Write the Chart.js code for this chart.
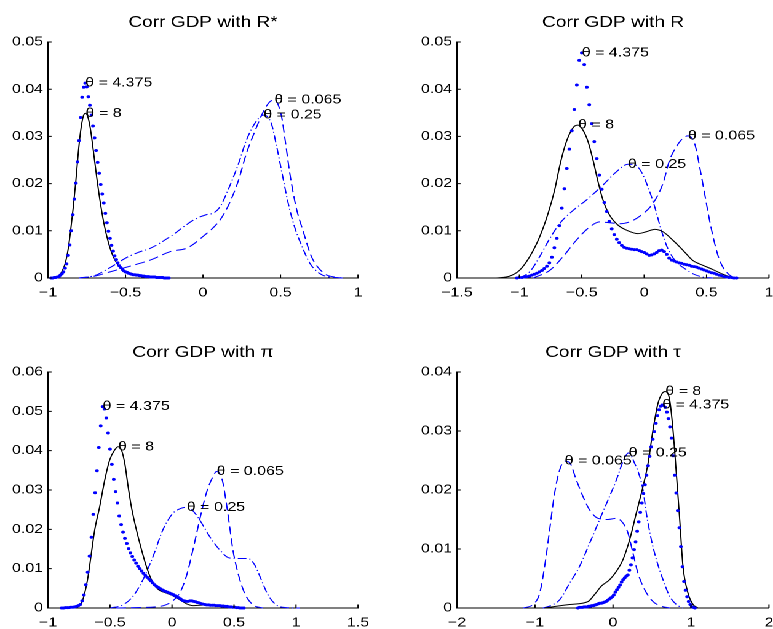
<!DOCTYPE html>
<html>
<head>
<meta charset="utf-8">
<title>Corr GDP densities</title>
<script src="https://cdn.jsdelivr.net/npm/chart.js@4.4.0/dist/chart.umd.min.js"></script>
<style>
  html, body { margin: 0; padding: 0; background: #fff; overflow: hidden; }
  #figure { position: absolute; left: 0; top: 0; width: 650px; height: 629px; transform-origin: 0 0; }
</style>
</head>
<body>
<div id="figure">
  <canvas id="c1"></canvas>
  <canvas id="c2"></canvas>
  <canvas id="c3"></canvas>
  <canvas id="c4"></canvas>
</div>
<script>
// ! LABELS
const titles = ["Corr GDP with R*", "Corr GDP with R", "Corr GDP with \u03c0", "Corr GDP with \u03c4"];
const thetaLabels = ["\u03b8 = 4.375", "\u03b8 = 8", "\u03b8 = 0.25", "\u03b8 = 0.065"];

// ! PANEL 1 : R*
const p1XTicks = [-1, -0.5, 0, 0.5, 1];
const p1YTicks = [0, 0.01, 0.02, 0.03, 0.04, 0.05];
const p1DotX = [-0.98, -0.97, -0.96, -0.95, -0.94, -0.93, -0.92, -0.91, -0.9, -0.89,
  -0.88, -0.87, -0.86, -0.85, -0.84, -0.83, -0.82, -0.81, -0.8, -0.79,
  -0.78, -0.77, -0.76, -0.75, -0.74, -0.73, -0.72, -0.71, -0.7, -0.69,
  -0.68, -0.67, -0.66, -0.65, -0.64, -0.63, -0.62, -0.61, -0.6, -0.59,
  -0.58, -0.57, -0.56, -0.55, -0.54, -0.53, -0.52, -0.51, -0.5, -0.49,
  -0.48, -0.47, -0.46, -0.45, -0.44, -0.43, -0.42, -0.41, -0.4, -0.39,
  -0.38, -0.37, -0.36, -0.35, -0.34, -0.33, -0.32, -0.31, -0.3, -0.29,
  -0.28, -0.27, -0.26, -0.25, -0.24, -0.23, -0.22];
const p1DotY = [0, 0, 0.0001, 0.0001, 0.0002, 0.0003, 0.0006, 0.0009, 0.0013, 0.0021,
  0.003, 0.0048, 0.007, 0.01, 0.0134, 0.0167, 0.0201, 0.0246, 0.0291, 0.034,
  0.0383, 0.0404, 0.0413, 0.0405, 0.0384, 0.0366, 0.0345, 0.0322, 0.0297, 0.027,
  0.0245, 0.0222, 0.0198, 0.0178, 0.0159, 0.0137, 0.0117, 0.0099, 0.0084, 0.0069,
  0.0057, 0.0047, 0.0039, 0.0032, 0.0026, 0.0022, 0.0018, 0.0015, 0.0013, 0.0012,
  0.001, 0.0009, 0.0008, 0.0007, 0.0007, 0.0006, 0.0006, 0.0005, 0.0005, 0.0004,
  0.0004, 0.0003, 0.0003, 0.0003, 0.0002, 0.0002, 0.0002, 0.0002, 0.0001, 0.0001,
  0.0001, 0.0001, 0.0001, 0, 0, 0, 0];
const p1Solid = [[-0.95, 0], [-0.93, 0.0004], [-0.91, 0.0014], [-0.89, 0.003], [-0.87, 0.0061],
  [-0.854, 0.0101], [-0.837, 0.015], [-0.82, 0.0207], [-0.805, 0.0264], [-0.79, 0.031],
  [-0.773, 0.0342], [-0.758, 0.0349], [-0.74, 0.0338], [-0.725, 0.0313], [-0.708, 0.0271],
  [-0.686, 0.0214], [-0.665, 0.0165], [-0.639, 0.0115], [-0.611, 0.0076], [-0.579, 0.0045],
  [-0.547, 0.0027], [-0.514, 0.0016], [-0.45, 0.0008], [-0.364, 0.0004], [-0.3, 0.0002], [-0.235, 0.0001]];
const p1DashDot = [[-0.8, 0], [-0.7, 0.0005], [-0.6, 0.0022], [-0.5, 0.0042], [-0.42, 0.0054],
  [-0.34, 0.0063], [-0.21, 0.0088], [-0.06, 0.0123], [0.02, 0.0134], [0.07, 0.0138],
  [0.11, 0.0151], [0.17, 0.0193], [0.23, 0.0243], [0.28, 0.0292], [0.35, 0.0335],
  [0.39, 0.0345], [0.44, 0.0328], [0.475, 0.0279], [0.51, 0.0222], [0.55, 0.0158],
  [0.59, 0.0109], [0.64, 0.0066], [0.69, 0.0031], [0.75, 0.001], [0.8, 0.0003], [0.86, 0.0001], [0.9, 0]];
const p1Dashed = [[-0.8, 0], [-0.7, 0.0004], [-0.6, 0.0013], [-0.45, 0.0027], [-0.34, 0.0038],
  [-0.21, 0.0056], [-0.1, 0.0064], [0, 0.0088], [0.11, 0.0123], [0.17, 0.0158],
  [0.23, 0.0208], [0.28, 0.0264], [0.335, 0.0311], [0.39, 0.0353], [0.43, 0.0373],
  [0.46, 0.0377], [0.505, 0.0345], [0.53, 0.0292], [0.56, 0.0222], [0.6, 0.0151],
  [0.65, 0.0095], [0.7, 0.0045], [0.78, 0.001], [0.85, 0.0002], [0.9, 0]];

// ! PANEL 2 : R
const p2XTicks = [-1.5, -1, -0.5, 0, 0.5, 1];
const p2YTicks = [0, 0.01, 0.02, 0.03, 0.04, 0.05];
const p2DotX = [-1.02, -1, -0.98, -0.96, -0.94, -0.92, -0.9, -0.88, -0.86, -0.84,
  -0.82, -0.8, -0.78, -0.76, -0.74, -0.72, -0.7, -0.68, -0.66, -0.64,
  -0.62, -0.6, -0.58, -0.56, -0.54, -0.52, -0.5, -0.48, -0.46, -0.44,
  -0.42, -0.4, -0.38, -0.36, -0.34, -0.32, -0.3, -0.28, -0.26, -0.24,
  -0.22, -0.2, -0.18, -0.16, -0.14, -0.12, -0.1, -0.08, -0.06, -0.04,
  -0.02, 0, 0.02, 0.04, 0.06, 0.08, 0.1, 0.12, 0.14, 0.16,
  0.18, 0.2, 0.22, 0.24, 0.26, 0.28, 0.3, 0.32, 0.34, 0.36,
  0.38, 0.4, 0.42, 0.44, 0.46, 0.48, 0.5, 0.52, 0.54, 0.56,
  0.58, 0.6, 0.62, 0.64, 0.66, 0.68, 0.7, 0.72, 0.74];
const p2DotY = [0, 0.0001, 0.0001, 0.0002, 0.0003, 0.0004, 0.0006, 0.0008, 0.001, 0.0013,
  0.0016, 0.002, 0.0025, 0.0032, 0.0044, 0.0064, 0.0084, 0.0111, 0.0148, 0.0189,
  0.0232, 0.0273, 0.0312, 0.0357, 0.0409, 0.0461, 0.0477, 0.0452, 0.0404, 0.0367,
  0.0327, 0.0289, 0.0253, 0.0218, 0.0188, 0.016, 0.0141, 0.012, 0.0104, 0.0092,
  0.0082, 0.0075, 0.0069, 0.0065, 0.0063, 0.0062, 0.0061, 0.006, 0.006, 0.0058,
  0.0056, 0.0054, 0.0051, 0.0048, 0.0049, 0.0051, 0.0054, 0.0058, 0.0059, 0.0056,
  0.005, 0.0042, 0.0038, 0.0036, 0.0034, 0.0032, 0.0031, 0.0029, 0.0028, 0.0027,
  0.0025, 0.0024, 0.0023, 0.0021, 0.0019, 0.0017, 0.0015, 0.0013, 0.0011, 0.001,
  0.0008, 0.0006, 0.0005, 0.0003, 0.0002, 0.0001, 0.0001, 0, 0];
const p2Solid = [[-1.185, 0], [-1.078, 0.0004], [-1, 0.0016], [-0.918, 0.0045], [-0.838, 0.0087],
  [-0.771, 0.0136], [-0.718, 0.0186], [-0.678, 0.0236], [-0.637, 0.0278], [-0.597, 0.0306],
  [-0.557, 0.0322], [-0.53, 0.0324], [-0.49, 0.0313], [-0.45, 0.0289], [-0.41, 0.025],
  [-0.37, 0.0204], [-0.33, 0.0165], [-0.277, 0.0133], [-0.21, 0.0112], [-0.13, 0.01],
  [-0.05, 0.0094], [0.017, 0.0098], [0.084, 0.0103], [0.15, 0.0098], [0.23, 0.008],
  [0.31, 0.0059], [0.39, 0.0037], [0.47, 0.0027], [0.55, 0.0018], [0.63, 0.0008], [0.71, 0.0001], [0.765, 0]];
const p2DashDot = [[-1, 0], [-0.918, 0.0013], [-0.838, 0.0045], [-0.758, 0.0083], [-0.678, 0.0115],
  [-0.584, 0.014], [-0.464, 0.0165], [-0.33, 0.0197], [-0.223, 0.0225], [-0.13, 0.0241],
  [-0.076, 0.024], [-0.023, 0.0225], [0.03, 0.0193], [0.084, 0.0151], [0.137, 0.0101],
  [0.19, 0.0062], [0.257, 0.0034], [0.324, 0.002], [0.39, 0.0009], [0.47, 0.0002], [0.55, 0]];
const p2Dashed = [[-0.89, 0], [-0.758, 0.0016], [-0.651, 0.0045], [-0.544, 0.008], [-0.437, 0.0108],
  [-0.357, 0.0119], [-0.277, 0.0117], [-0.197, 0.0115], [-0.116, 0.0119], [-0.01, 0.0136],
  [0.07, 0.0158], [0.15, 0.02], [0.204, 0.025], [0.257, 0.0278], [0.31, 0.0296],
  [0.35, 0.0301], [0.404, 0.0285], [0.444, 0.0236], [0.484, 0.0179], [0.524, 0.0122],
  [0.565, 0.0073], [0.605, 0.0037], [0.658, 0.0013], [0.711, 0.0002], [0.765, 0]];

// ! PANEL 3 : PI
const p3XTicks = [-1, -0.5, 0, 0.5, 1, 1.5];
const p3YTicks = [0, 0.01, 0.02, 0.03, 0.04, 0.05, 0.06];
const p3DotX = [-0.89, -0.875, -0.86, -0.845, -0.83, -0.815, -0.8, -0.785, -0.77, -0.755,
  -0.74, -0.725, -0.71, -0.695, -0.68, -0.665, -0.65, -0.635, -0.62, -0.605,
  -0.59, -0.575, -0.56, -0.545, -0.53, -0.515, -0.5, -0.485, -0.47, -0.455,
  -0.44, -0.425, -0.41, -0.395, -0.38, -0.365, -0.35, -0.335, -0.32, -0.305,
  -0.29, -0.275, -0.26, -0.245, -0.23, -0.215, -0.2, -0.185, -0.17, -0.155,
  -0.14, -0.125, -0.11, -0.095, -0.08, -0.065, -0.05, -0.035, -0.02, -0.005,
  0.01, 0.025, 0.04, 0.055, 0.07, 0.085, 0.1, 0.115, 0.13, 0.145,
  0.16, 0.175, 0.19, 0.205, 0.22, 0.235, 0.25, 0.265, 0.28, 0.295,
  0.31, 0.325, 0.34, 0.355, 0.37, 0.385, 0.4, 0.415, 0.43, 0.445,
  0.46, 0.475, 0.49, 0.505, 0.52, 0.535, 0.55, 0.565, 0.58];
const p3DotY = [0, 0, 0.0001, 0.0001, 0.0001, 0.0002, 0.0002, 0.0003, 0.0004, 0.0006,
  0.0009, 0.0018, 0.0033, 0.0059, 0.0091, 0.0132, 0.018, 0.0238, 0.0293, 0.0349,
  0.0408, 0.0463, 0.0512, 0.0506, 0.0483, 0.0445, 0.0404, 0.0365, 0.0327, 0.0296,
  0.0267, 0.0234, 0.0212, 0.0193, 0.0177, 0.0164, 0.0151, 0.014, 0.0131, 0.0122,
  0.0114, 0.0106, 0.01, 0.0094, 0.0088, 0.0083, 0.0078, 0.0073, 0.0069, 0.0064,
  0.0059, 0.0055, 0.0052, 0.0049, 0.0046, 0.0044, 0.0042, 0.004, 0.0038, 0.0036,
  0.0034, 0.0031, 0.0029, 0.0026, 0.0023, 0.0019, 0.0018, 0.0017, 0.0017, 0.0018,
  0.0018, 0.0017, 0.0016, 0.0014, 0.0013, 0.0011, 0.001, 0.0009, 0.0008, 0.0008,
  0.0007, 0.0007, 0.0007, 0.0006, 0.0006, 0.0006, 0.0005, 0.0005, 0.0004, 0.0004,
  0.0003, 0.0003, 0.0002, 0.0002, 0.0001, 0.0001, 0, 0, 0];
const p3Solid = [[-0.851, 0], [-0.77, 0.0002], [-0.73, 0.0013], [-0.704, 0.0038], [-0.677, 0.008],
  [-0.65, 0.014], [-0.623, 0.0199], [-0.583, 0.0258], [-0.542, 0.0326], [-0.502, 0.0377],
  [-0.462, 0.0402], [-0.435, 0.041], [-0.408, 0.0402], [-0.381, 0.0368], [-0.354, 0.0309],
  [-0.328, 0.0258], [-0.3, 0.0216], [-0.26, 0.0165], [-0.207, 0.0106], [-0.166, 0.0072],
  [-0.113, 0.0048], [-0.046, 0.0038], [0.008, 0.0031], [0.062, 0.0021], [0.115, 0.0011],
  [0.169, 0.0006], [0.277, 0.0008], [0.357, 0.0006], [0.491, 0.0002], [0.572, 0]];
const p3DashDot = [[-0.5, 0], [-0.395, 0.0008], [-0.314, 0.003], [-0.234, 0.0072], [-0.153, 0.0131],
  [-0.073, 0.0199], [0.008, 0.0241], [0.07, 0.0253], [0.12, 0.0256], [0.16, 0.025],
  [0.223, 0.0224], [0.303, 0.0182], [0.384, 0.0148], [0.465, 0.0127], [0.545, 0.0126],
  [0.612, 0.0126], [0.666, 0.011], [0.72, 0.0072], [0.773, 0.0034], [0.84, 0.0008],
  [0.921, 0.0001], [1.03, 0]];
const p3Dashed = [[-0.45, 0], [-0.3, 0.0001], [-0.1, 0.0004], [-0.019, 0.0013], [0.062, 0.0038],
  [0.115, 0.008], [0.169, 0.0148], [0.223, 0.0224], [0.277, 0.0292], [0.33, 0.0334],
  [0.36, 0.0347], [0.405, 0.0326], [0.438, 0.0267], [0.465, 0.0207], [0.491, 0.0148],
  [0.532, 0.0089], [0.585, 0.0038], [0.653, 0.0008], [0.733, 0]];

// ! PANEL 4 : TAU
const p4XTicks = [-2, -1, 0, 1, 2];
const p4YTicks = [0, 0.01, 0.02, 0.03, 0.04];
const p4DotX = [-0.45, -0.43, -0.41, -0.39, -0.37, -0.35, -0.33, -0.31, -0.29, -0.27,
  -0.25, -0.23, -0.21, -0.19, -0.17, -0.15, -0.13, -0.11, -0.09, -0.07,
  -0.05, -0.03, -0.01, 0.01, 0.03, 0.05, 0.07, 0.09, 0.11, 0.13,
  0.15, 0.17, 0.19, 0.21, 0.23, 0.25, 0.27, 0.29, 0.31, 0.33,
  0.35, 0.37, 0.39, 0.41, 0.43, 0.45, 0.47, 0.49, 0.51, 0.53,
  0.55, 0.57, 0.59, 0.61, 0.63, 0.65, 0.67, 0.69, 0.71, 0.73,
  0.75, 0.77, 0.79, 0.81, 0.83, 0.85, 0.87, 0.89, 0.91, 0.93,
  0.95, 0.97, 0.99, 1.01, 1.03, 1.05];
const p4DotY = [0, 0.0001, 0.0001, 0.0001, 0.0002, 0.0002, 0.0002, 0.0003, 0.0003, 0.0004,
  0.0004, 0.0005, 0.0006, 0.0007, 0.0008, 0.0008, 0.0009, 0.001, 0.0011, 0.0013,
  0.0015, 0.0017, 0.0019, 0.0022, 0.0027, 0.0031, 0.0035, 0.0039, 0.0044, 0.0048,
  0.0051, 0.0054, 0.0056, 0.0064, 0.0073, 0.0085, 0.0099, 0.0112, 0.013, 0.0146,
  0.0162, 0.0178, 0.0194, 0.0209, 0.0225, 0.0241, 0.0257, 0.0273, 0.0286, 0.0299,
  0.0313, 0.0326, 0.0336, 0.0342, 0.0344, 0.0343, 0.034, 0.0332, 0.0321, 0.0307,
  0.0288, 0.0258, 0.0225, 0.0195, 0.0165, 0.0136, 0.0104, 0.007, 0.0045, 0.003,
  0.0019, 0.0011, 0.0006, 0.0002, 0.0001, 0];
const p4Solid = [[-0.876, 0], [-0.556, 0.0006], [-0.32, 0.0011], [-0.235, 0.0023], [-0.15, 0.0037],
  [-0.043, 0.0048], [0.043, 0.0062], [0.128, 0.0082], [0.214, 0.0116], [0.299, 0.0161],
  [0.385, 0.0206], [0.449, 0.0245], [0.513, 0.0302], [0.577, 0.0347], [0.632, 0.0364],
  [0.67, 0.0367], [0.726, 0.0353], [0.769, 0.0302], [0.812, 0.0228], [0.855, 0.015],
  [0.897, 0.0071], [0.962, 0.0025], [1.026, 0.0006], [1.09, 0]];
const p4DashDot = [[-0.9, 0], [-0.8, 0.0004], [-0.684, 0.0014], [-0.556, 0.0042], [-0.427, 0.0071],
  [-0.299, 0.011], [-0.171, 0.015], [-0.064, 0.0183], [0.043, 0.0217], [0.128, 0.0248],
  [0.2, 0.0263], [0.278, 0.0245], [0.342, 0.0223], [0.385, 0.02], [0.427, 0.0161],
  [0.491, 0.0116], [0.556, 0.0082], [0.641, 0.0048], [0.726, 0.002], [0.812, 0.0006], [0.897, 0]];
const p4Dashed = [[-1.154, 0], [-1.026, 0.0006], [-0.94, 0.0025], [-0.876, 0.0071], [-0.812, 0.0133],
  [-0.748, 0.0195], [-0.684, 0.0234], [-0.62, 0.0249], [-0.56, 0.0247], [-0.47, 0.0217],
  [-0.385, 0.0189], [-0.299, 0.0166], [-0.192, 0.0152], [-0.064, 0.015], [0.043, 0.0152],
  [0.128, 0.0144], [0.192, 0.0127], [0.256, 0.0093], [0.32, 0.0059], [0.406, 0.0031],
  [0.513, 0.0011], [0.62, 0.0003], [0.726, 0]];

// ! FIGURE SETTINGS
const S = 1.23; // the figure is drawn narrow and stretched sideways
const FONT = '"Liberation Sans", Arial, Helvetica, sans-serif';
const BLUE = "#0000ff";
document.getElementById("figure").style.transform = `scaleX(${S})`;

const toPoints = (list) => list.map(([x, y]) => ({ x, y }));
const zipPoints = (xs, ys) => xs.map((x, i) => ({ x, y: ys[i] }));
const fmtTick = (v) => String(Math.round(v * 1000) / 1000).replace("-", "\u2212");

// inward tick marks, the title and the theta tags at each curve's peak
const axesDecor = {
  id: "axesDecor",
  afterDatasetsDraw(chart, args, opts) {
    const { ctx, chartArea: a } = chart;
    const xs = chart.scales.x;
    const ys = chart.scales.y;
    ctx.save();
    ctx.strokeStyle = "#000";
    ctx.lineWidth = 1;
    ctx.beginPath();
    xs.ticks.forEach((t) => {
      const px = xs.getPixelForValue(t.value);
      ctx.moveTo(px, a.bottom);
      ctx.lineTo(px, a.bottom - 3.5);
    });
    ys.ticks.forEach((t) => {
      const py = ys.getPixelForValue(t.value);
      ctx.moveTo(a.left, py);
      ctx.lineTo(a.left + 2.9, py);
    });
    ctx.stroke();

    ctx.fillStyle = "#000";
    ctx.font = `15.5px ${FONT}`;
    ctx.textAlign = "center";
    ctx.textBaseline = "alphabetic";
    ctx.fillText(opts.title, (a.left + a.right) / 2, a.top - 15);

    ctx.font = `13px ${FONT}`;
    ctx.textAlign = "left";
    ctx.textBaseline = "middle";
    chart.data.datasets.forEach((ds) => {
      const peak = ds.data.reduce((m, p) => (p.y > m.y ? p : m));
      ctx.fillText(ds.label, xs.getPixelForValue(peak.x), ys.getPixelForValue(peak.y));
    });
    ctx.restore();
  },
};

// box = canvas [left, top, width, height] before stretching; area = plot edges on the page
function drawPanel(id, box, area, cfg) {
  const [bx, by, bw, bh] = box;
  const canvas = document.getElementById(id);
  canvas.width = bw;
  canvas.height = bh;
  canvas.style.cssText = `position:absolute;left:${bx}px;top:${by}px;width:${bw}px;height:${bh}px`;

  const left = area.left / S - bx;
  const right = area.right / S - bx;
  const top = area.top - by;
  const bottom = area.bottom - by;
  const tickFont = { family: FONT, size: 13 };

  return new Chart(canvas, {
    type: "line",
    data: {
      datasets: [
        {
          label: thetaLabels[0],
          data: cfg.dotted,
          showLine: false,
          pointRadius: 1.5,
          pointBorderWidth: 0,
          pointBackgroundColor: BLUE,
          pointBorderColor: BLUE,
        },
        { label: thetaLabels[1], data: cfg.solid, borderColor: "#000", borderWidth: 1, pointRadius: 0 },
        { label: thetaLabels[2], data: cfg.dashDot, borderColor: BLUE, borderWidth: 1, borderDash: [7, 2.5, 1, 2.5], pointRadius: 0 },
        { label: thetaLabels[3], data: cfg.dashed, borderColor: BLUE, borderWidth: 1, borderDash: [8, 4], pointRadius: 0 },
      ],
    },
    options: {
      responsive: false,
      animation: false,
      devicePixelRatio: 2,
      layout: { padding: { top: top, left: 0, right: bw - right, bottom: 0 } },
      datasets: { line: { cubicInterpolationMode: "monotone", clip: false, fill: false } },
      plugins: {
        legend: { display: false },
        tooltip: { enabled: false },
        axesDecor: { title: cfg.title },
      },
      scales: {
        x: {
          type: "linear",
          min: cfg.xTicks[0],
          max: cfg.xTicks[cfg.xTicks.length - 1],
          afterBuildTicks: (s) => { s.ticks = cfg.xTicks.map((value) => ({ value })); },
          afterFit: (s) => { s.height = bh - bottom; },
          grid: { display: false, drawTicks: false },
          border: { display: true, color: "#000", width: 1 },
          ticks: { callback: fmtTick, color: "#000", font: tickFont, padding: 7, maxRotation: 0, autoSkip: false },
        },
        y: {
          type: "linear",
          min: 0,
          max: cfg.yTicks[cfg.yTicks.length - 1],
          afterBuildTicks: (s) => { s.ticks = cfg.yTicks.map((value) => ({ value })); },
          afterFit: (s) => { s.width = left; },
          grid: { display: false, drawTicks: false },
          border: { display: true, color: "#000", width: 1 },
          ticks: { callback: fmtTick, color: "#000", font: tickFont, padding: 4, autoSkip: false },
        },
      },
    },
    plugins: [axesDecor],
  });
}

drawPanel("c1", [0, 0, 314, 314], { left: 48, right: 358, top: 42, bottom: 278 }, {
  title: titles[0], xTicks: p1XTicks, yTicks: p1YTicks,
  dotted: zipPoints(p1DotX, p1DotY), solid: toPoints(p1Solid),
  dashDot: toPoints(p1DashDot), dashed: toPoints(p1Dashed),
});
drawPanel("c2", [314, 0, 330, 314], { left: 457, right: 769, top: 42, bottom: 278 }, {
  title: titles[1], xTicks: p2XTicks, yTicks: p2YTicks,
  dotted: zipPoints(p2DotX, p2DotY), solid: toPoints(p2Solid),
  dashDot: toPoints(p2DashDot), dashed: toPoints(p2Dashed),
});
drawPanel("c3", [0, 314, 314, 315], { left: 48, right: 358, top: 372, bottom: 608 }, {
  title: titles[2], xTicks: p3XTicks, yTicks: p3YTicks,
  dotted: zipPoints(p3DotX, p3DotY), solid: toPoints(p3Solid),
  dashDot: toPoints(p3DashDot), dashed: toPoints(p3Dashed),
});
drawPanel("c4", [314, 314, 330, 315], { left: 457, right: 769, top: 372, bottom: 608 }, {
  title: titles[3], xTicks: p4XTicks, yTicks: p4YTicks,
  dotted: zipPoints(p4DotX, p4DotY), solid: toPoints(p4Solid),
  dashDot: toPoints(p4DashDot), dashed: toPoints(p4Dashed),
});
</script>
</body>
</html>
